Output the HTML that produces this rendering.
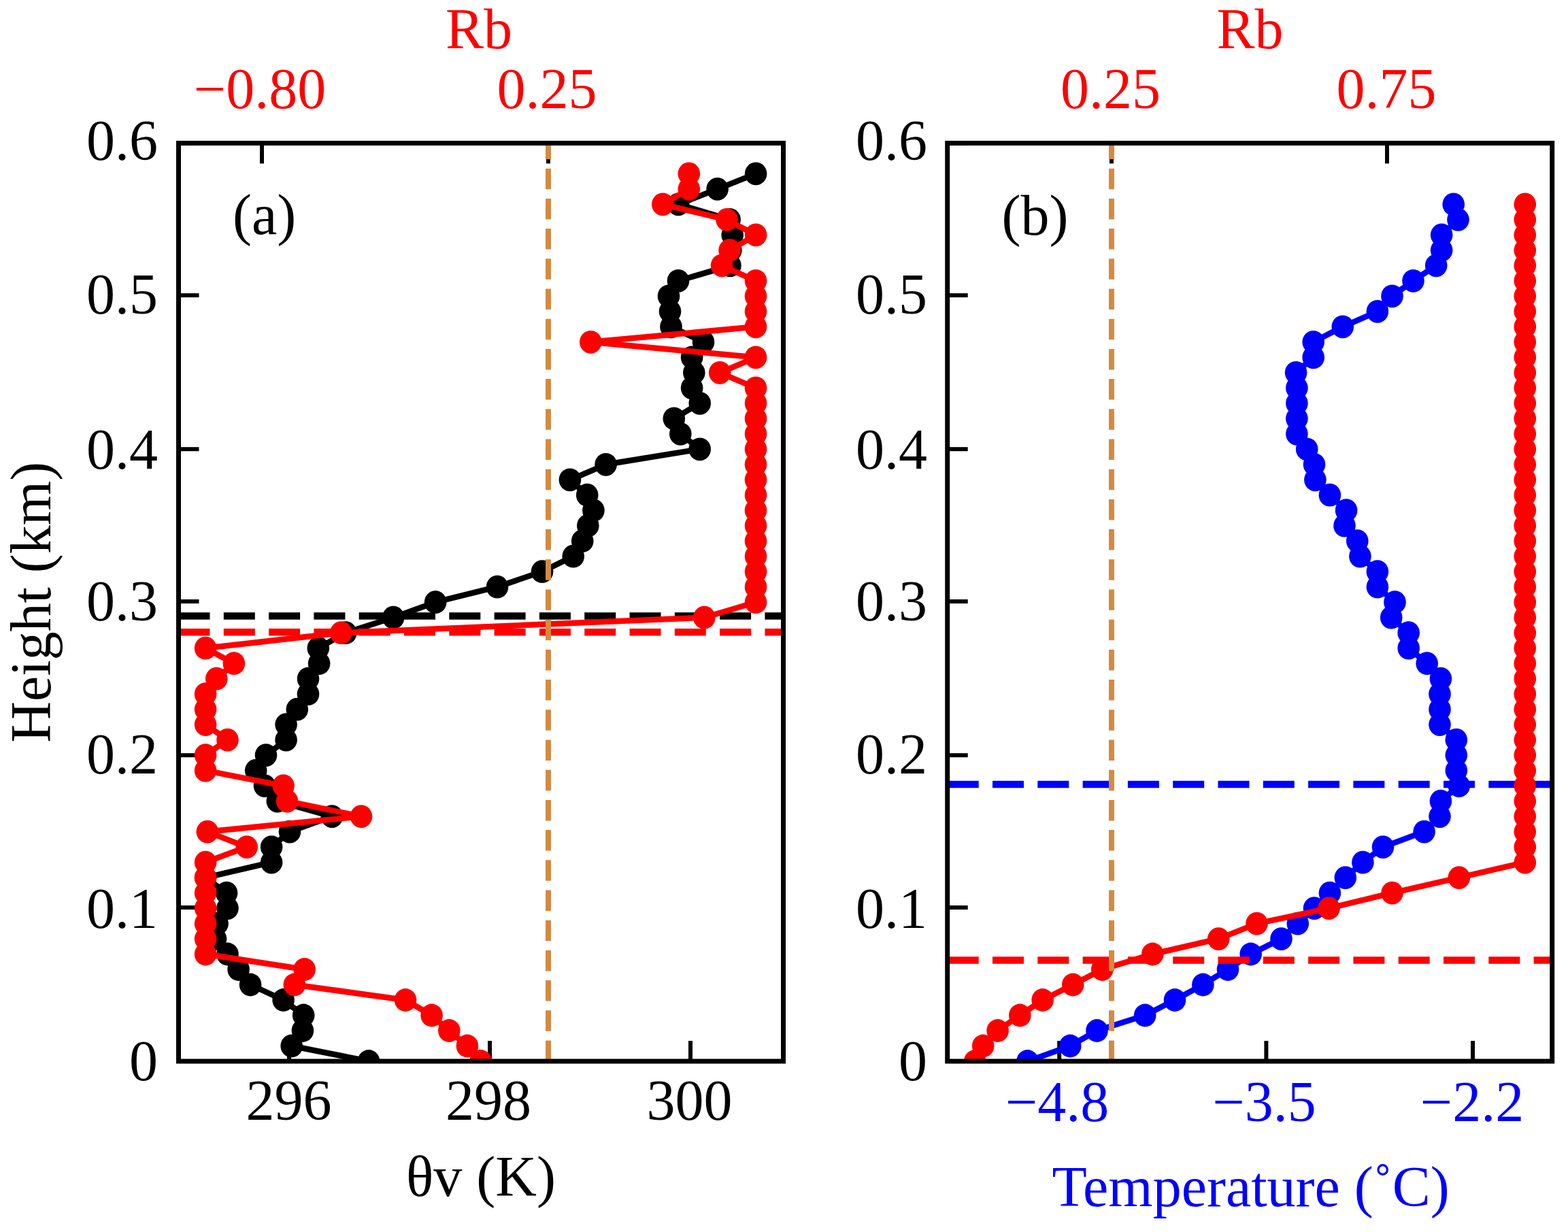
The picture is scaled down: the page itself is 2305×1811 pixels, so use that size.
<!DOCTYPE html>
<html><head><meta charset="utf-8"><style>
html,body{margin:0;padding:0;background:#fff;}
svg{display:block;}
text{font-family:"Liberation Serif","Times New Roman",serif;font-size:84px;}
</style></head><body>
<svg width="2305" height="1811" viewBox="0 0 2305 1811">
<rect width="2305" height="1811" fill="#fff"/>
<defs>
<clipPath id="clipA"><rect x="262.5" y="210.4" width="889.0" height="1349.6"/></clipPath>
<clipPath id="clipB"><rect x="1392.7" y="210.4" width="888.9999999999998" height="1349.6"/></clipPath>
</defs><line x1="262.5" y1="1560.0" x2="292.5" y2="1560.0" stroke="#000" stroke-width="6"/><line x1="262.5" y1="1334.0" x2="292.5" y2="1334.0" stroke="#000" stroke-width="6"/><line x1="262.5" y1="1110.2" x2="292.5" y2="1110.2" stroke="#000" stroke-width="6"/><line x1="262.5" y1="884.1" x2="292.5" y2="884.1" stroke="#000" stroke-width="6"/><line x1="262.5" y1="660.2" x2="292.5" y2="660.2" stroke="#000" stroke-width="6"/><line x1="262.5" y1="434.1" x2="292.5" y2="434.1" stroke="#000" stroke-width="6"/><line x1="262.5" y1="210.5" x2="292.5" y2="210.5" stroke="#000" stroke-width="6"/><line x1="1392.7" y1="1560.0" x2="1422.7" y2="1560.0" stroke="#000" stroke-width="6"/><line x1="1392.7" y1="1334.0" x2="1422.7" y2="1334.0" stroke="#000" stroke-width="6"/><line x1="1392.7" y1="1110.2" x2="1422.7" y2="1110.2" stroke="#000" stroke-width="6"/><line x1="1392.7" y1="884.1" x2="1422.7" y2="884.1" stroke="#000" stroke-width="6"/><line x1="1392.7" y1="660.2" x2="1422.7" y2="660.2" stroke="#000" stroke-width="6"/><line x1="1392.7" y1="434.1" x2="1422.7" y2="434.1" stroke="#000" stroke-width="6"/><line x1="1392.7" y1="210.5" x2="1422.7" y2="210.5" stroke="#000" stroke-width="6"/><line x1="425" y1="1560.0" x2="425" y2="1530.0" stroke="#000" stroke-width="6"/><line x1="720" y1="1560.0" x2="720" y2="1530.0" stroke="#000" stroke-width="6"/><line x1="1015" y1="1560.0" x2="1015" y2="1530.0" stroke="#000" stroke-width="6"/><line x1="385" y1="210.4" x2="385" y2="240.4" stroke="#000" stroke-width="6"/><line x1="806" y1="210.4" x2="806" y2="240.4" stroke="#000" stroke-width="6"/><line x1="1557.2" y1="1560.0" x2="1557.2" y2="1530.0" stroke="#000" stroke-width="6"/><line x1="1861.4" y1="1560.0" x2="1861.4" y2="1530.0" stroke="#000" stroke-width="6"/><line x1="2165" y1="1560.0" x2="2165" y2="1530.0" stroke="#000" stroke-width="6"/><line x1="1634" y1="210.4" x2="1634" y2="240.4" stroke="#000" stroke-width="6"/><line x1="2039" y1="210.4" x2="2039" y2="240.4" stroke="#000" stroke-width="6"/><g clip-path="url(#clipA)"><path d="M542.0,1560.0 L428.7,1537.5 L444.9,1515.0 L446.2,1492.5 L416.6,1470.0 L368.1,1447.5 L350.6,1425.0 L334.5,1402.5 L317.0,1380.1 L319.6,1357.6 L334.5,1335.1 L333.1,1312.6 L302.1,1290.1 L399.1,1267.6 L399.1,1245.1 L426.0,1222.6 L488.0,1200.1 L407.8,1177.6 L389.0,1155.1 L376.2,1132.6 L391.0,1110.1 L420.6,1087.6 L420.6,1065.1 L436.8,1042.7 L453.0,1020.2 L453.0,997.7 L469.1,975.2 L467.8,952.7 L508.2,930.2 L578.2,907.7 L640.1,885.2 L731.0,862.7 L797.0,840.2 L842.7,817.7 L856.2,795.2 L864.3,772.7 L872.4,750.2 L863.2,727.7 L837.9,705.3 L890.6,682.8 L1028.7,660.3 L1000.3,637.8 L990.8,615.3 L1028.7,592.8 L1017.1,570.3 L1020.3,547.8 L1017.1,525.3 L1034.0,502.8 L986.5,480.3 L985.0,457.8 L983.0,435.3 L997.0,412.8 L1073.4,390.3 L1074.3,367.9 L1076.7,345.4 L1072.6,322.9 L997.2,300.4 L1054.6,277.9 L1111.1,255.4" fill="none" stroke="#000" stroke-width="8.5" stroke-linejoin="round"/><g fill="#000"><ellipse cx="542.0" cy="1560.0" rx="16.3" ry="16.9"/><ellipse cx="428.7" cy="1537.5" rx="16.3" ry="16.9"/><ellipse cx="444.9" cy="1515.0" rx="16.3" ry="16.9"/><ellipse cx="446.2" cy="1492.5" rx="16.3" ry="16.9"/><ellipse cx="416.6" cy="1470.0" rx="16.3" ry="16.9"/><ellipse cx="368.1" cy="1447.5" rx="16.3" ry="16.9"/><ellipse cx="350.6" cy="1425.0" rx="16.3" ry="16.9"/><ellipse cx="334.5" cy="1402.5" rx="16.3" ry="16.9"/><ellipse cx="317.0" cy="1380.1" rx="16.3" ry="16.9"/><ellipse cx="319.6" cy="1357.6" rx="16.3" ry="16.9"/><ellipse cx="334.5" cy="1335.1" rx="16.3" ry="16.9"/><ellipse cx="333.1" cy="1312.6" rx="16.3" ry="16.9"/><ellipse cx="302.1" cy="1290.1" rx="16.3" ry="16.9"/><ellipse cx="399.1" cy="1267.6" rx="16.3" ry="16.9"/><ellipse cx="399.1" cy="1245.1" rx="16.3" ry="16.9"/><ellipse cx="426.0" cy="1222.6" rx="16.3" ry="16.9"/><ellipse cx="488.0" cy="1200.1" rx="16.3" ry="16.9"/><ellipse cx="407.8" cy="1177.6" rx="16.3" ry="16.9"/><ellipse cx="389.0" cy="1155.1" rx="16.3" ry="16.9"/><ellipse cx="376.2" cy="1132.6" rx="16.3" ry="16.9"/><ellipse cx="391.0" cy="1110.1" rx="16.3" ry="16.9"/><ellipse cx="420.6" cy="1087.6" rx="16.3" ry="16.9"/><ellipse cx="420.6" cy="1065.1" rx="16.3" ry="16.9"/><ellipse cx="436.8" cy="1042.7" rx="16.3" ry="16.9"/><ellipse cx="453.0" cy="1020.2" rx="16.3" ry="16.9"/><ellipse cx="453.0" cy="997.7" rx="16.3" ry="16.9"/><ellipse cx="469.1" cy="975.2" rx="16.3" ry="16.9"/><ellipse cx="467.8" cy="952.7" rx="16.3" ry="16.9"/><ellipse cx="508.2" cy="930.2" rx="16.3" ry="16.9"/><ellipse cx="578.2" cy="907.7" rx="16.3" ry="16.9"/><ellipse cx="640.1" cy="885.2" rx="16.3" ry="16.9"/><ellipse cx="731.0" cy="862.7" rx="16.3" ry="16.9"/><ellipse cx="797.0" cy="840.2" rx="16.3" ry="16.9"/><ellipse cx="842.7" cy="817.7" rx="16.3" ry="16.9"/><ellipse cx="856.2" cy="795.2" rx="16.3" ry="16.9"/><ellipse cx="864.3" cy="772.7" rx="16.3" ry="16.9"/><ellipse cx="872.4" cy="750.2" rx="16.3" ry="16.9"/><ellipse cx="863.2" cy="727.7" rx="16.3" ry="16.9"/><ellipse cx="837.9" cy="705.3" rx="16.3" ry="16.9"/><ellipse cx="890.6" cy="682.8" rx="16.3" ry="16.9"/><ellipse cx="1028.7" cy="660.3" rx="16.3" ry="16.9"/><ellipse cx="1000.3" cy="637.8" rx="16.3" ry="16.9"/><ellipse cx="990.8" cy="615.3" rx="16.3" ry="16.9"/><ellipse cx="1028.7" cy="592.8" rx="16.3" ry="16.9"/><ellipse cx="1017.1" cy="570.3" rx="16.3" ry="16.9"/><ellipse cx="1020.3" cy="547.8" rx="16.3" ry="16.9"/><ellipse cx="1017.1" cy="525.3" rx="16.3" ry="16.9"/><ellipse cx="1034.0" cy="502.8" rx="16.3" ry="16.9"/><ellipse cx="986.5" cy="480.3" rx="16.3" ry="16.9"/><ellipse cx="985.0" cy="457.8" rx="16.3" ry="16.9"/><ellipse cx="983.0" cy="435.3" rx="16.3" ry="16.9"/><ellipse cx="997.0" cy="412.8" rx="16.3" ry="16.9"/><ellipse cx="1073.4" cy="390.3" rx="16.3" ry="16.9"/><ellipse cx="1074.3" cy="367.9" rx="16.3" ry="16.9"/><ellipse cx="1076.7" cy="345.4" rx="16.3" ry="16.9"/><ellipse cx="1072.6" cy="322.9" rx="16.3" ry="16.9"/><ellipse cx="997.2" cy="300.4" rx="16.3" ry="16.9"/><ellipse cx="1054.6" cy="277.9" rx="16.3" ry="16.9"/><ellipse cx="1111.1" cy="255.4" rx="16.3" ry="16.9"/></g></g><g clip-path="url(#clipA)"><line x1="262.5" y1="905.6" x2="1151.5" y2="905.6" stroke="#000" stroke-width="10.5" stroke-dasharray="46 20.3"/></g><g clip-path="url(#clipA)"><path d="M706.7,1560.0 L686.9,1537.5 L660.3,1515.0 L634.6,1492.5 L596.0,1470.0 L432.8,1447.5 L447.6,1425.0 L302.1,1402.5 L302.1,1380.1 L302.1,1357.6 L302.1,1335.1 L302.1,1312.6 L302.1,1290.1 L302.1,1267.6 L362.7,1245.1 L304.8,1222.6 L531.0,1200.1 L422.0,1177.6 L416.6,1155.1 L302.1,1132.6 L302.1,1110.1 L334.5,1087.6 L302.1,1065.1 L302.1,1042.7 L302.1,1020.2 L318.3,997.7 L343.9,975.2 L302.1,952.7 L501.4,930.2 L1035.3,907.7 L1111.0,885.2 L1111.0,862.7 L1111.0,840.2 L1111.0,817.7 L1111.0,795.2 L1111.0,772.7 L1111.0,750.2 L1111.0,727.7 L1111.0,705.3 L1111.0,682.8 L1111.0,660.3 L1111.0,637.8 L1111.0,615.3 L1111.0,592.8 L1111.0,570.3 L1058.2,547.8 L1111.0,525.3 L868.3,502.8 L1111.0,480.3 L1111.0,457.8 L1111.0,435.3 L1111.0,412.8 L1061.1,390.3 L1072.6,367.9 L1111.1,345.4 L1068.5,322.9 L974.3,300.4 L1012.8,277.9 L1012.8,255.4" fill="none" stroke="#F00" stroke-width="8.5" stroke-linejoin="round"/><g fill="#F00"><ellipse cx="706.7" cy="1560.0" rx="16.3" ry="16.9"/><ellipse cx="686.9" cy="1537.5" rx="16.3" ry="16.9"/><ellipse cx="660.3" cy="1515.0" rx="16.3" ry="16.9"/><ellipse cx="634.6" cy="1492.5" rx="16.3" ry="16.9"/><ellipse cx="596.0" cy="1470.0" rx="16.3" ry="16.9"/><ellipse cx="432.8" cy="1447.5" rx="16.3" ry="16.9"/><ellipse cx="447.6" cy="1425.0" rx="16.3" ry="16.9"/><ellipse cx="302.1" cy="1402.5" rx="16.3" ry="16.9"/><ellipse cx="302.1" cy="1380.1" rx="16.3" ry="16.9"/><ellipse cx="302.1" cy="1357.6" rx="16.3" ry="16.9"/><ellipse cx="302.1" cy="1335.1" rx="16.3" ry="16.9"/><ellipse cx="302.1" cy="1312.6" rx="16.3" ry="16.9"/><ellipse cx="302.1" cy="1290.1" rx="16.3" ry="16.9"/><ellipse cx="302.1" cy="1267.6" rx="16.3" ry="16.9"/><ellipse cx="362.7" cy="1245.1" rx="16.3" ry="16.9"/><ellipse cx="304.8" cy="1222.6" rx="16.3" ry="16.9"/><ellipse cx="531.0" cy="1200.1" rx="16.3" ry="16.9"/><ellipse cx="422.0" cy="1177.6" rx="16.3" ry="16.9"/><ellipse cx="416.6" cy="1155.1" rx="16.3" ry="16.9"/><ellipse cx="302.1" cy="1132.6" rx="16.3" ry="16.9"/><ellipse cx="302.1" cy="1110.1" rx="16.3" ry="16.9"/><ellipse cx="334.5" cy="1087.6" rx="16.3" ry="16.9"/><ellipse cx="302.1" cy="1065.1" rx="16.3" ry="16.9"/><ellipse cx="302.1" cy="1042.7" rx="16.3" ry="16.9"/><ellipse cx="302.1" cy="1020.2" rx="16.3" ry="16.9"/><ellipse cx="318.3" cy="997.7" rx="16.3" ry="16.9"/><ellipse cx="343.9" cy="975.2" rx="16.3" ry="16.9"/><ellipse cx="302.1" cy="952.7" rx="16.3" ry="16.9"/><ellipse cx="501.4" cy="930.2" rx="16.3" ry="16.9"/><ellipse cx="1035.3" cy="907.7" rx="16.3" ry="16.9"/><ellipse cx="1111.0" cy="885.2" rx="16.3" ry="16.9"/><ellipse cx="1111.0" cy="862.7" rx="16.3" ry="16.9"/><ellipse cx="1111.0" cy="840.2" rx="16.3" ry="16.9"/><ellipse cx="1111.0" cy="817.7" rx="16.3" ry="16.9"/><ellipse cx="1111.0" cy="795.2" rx="16.3" ry="16.9"/><ellipse cx="1111.0" cy="772.7" rx="16.3" ry="16.9"/><ellipse cx="1111.0" cy="750.2" rx="16.3" ry="16.9"/><ellipse cx="1111.0" cy="727.7" rx="16.3" ry="16.9"/><ellipse cx="1111.0" cy="705.3" rx="16.3" ry="16.9"/><ellipse cx="1111.0" cy="682.8" rx="16.3" ry="16.9"/><ellipse cx="1111.0" cy="660.3" rx="16.3" ry="16.9"/><ellipse cx="1111.0" cy="637.8" rx="16.3" ry="16.9"/><ellipse cx="1111.0" cy="615.3" rx="16.3" ry="16.9"/><ellipse cx="1111.0" cy="592.8" rx="16.3" ry="16.9"/><ellipse cx="1111.0" cy="570.3" rx="16.3" ry="16.9"/><ellipse cx="1058.2" cy="547.8" rx="16.3" ry="16.9"/><ellipse cx="1111.0" cy="525.3" rx="16.3" ry="16.9"/><ellipse cx="868.3" cy="502.8" rx="16.3" ry="16.9"/><ellipse cx="1111.0" cy="480.3" rx="16.3" ry="16.9"/><ellipse cx="1111.0" cy="457.8" rx="16.3" ry="16.9"/><ellipse cx="1111.0" cy="435.3" rx="16.3" ry="16.9"/><ellipse cx="1111.0" cy="412.8" rx="16.3" ry="16.9"/><ellipse cx="1061.1" cy="390.3" rx="16.3" ry="16.9"/><ellipse cx="1072.6" cy="367.9" rx="16.3" ry="16.9"/><ellipse cx="1111.1" cy="345.4" rx="16.3" ry="16.9"/><ellipse cx="1068.5" cy="322.9" rx="16.3" ry="16.9"/><ellipse cx="974.3" cy="300.4" rx="16.3" ry="16.9"/><ellipse cx="1012.8" cy="277.9" rx="16.3" ry="16.9"/><ellipse cx="1012.8" cy="255.4" rx="16.3" ry="16.9"/></g></g><g clip-path="url(#clipA)"><line x1="262.5" y1="929.2" x2="1151.5" y2="929.2" stroke="#F00" stroke-width="10.5" stroke-dasharray="46 20.3"/></g><line x1="806" y1="1560.0" x2="806" y2="200.4" stroke="#D48A42" stroke-width="8" stroke-dasharray="30.5 13.7" clip-path="url(#clipA)"/><g clip-path="url(#clipB)"><path d="M1510.5,1560.0 L1573.2,1537.5 L1612.5,1515.0 L1683.2,1492.5 L1727.0,1470.0 L1768.4,1447.5 L1805.0,1425.0 L1838.7,1402.5 L1883.5,1380.1 L1907.8,1357.6 L1932.0,1335.1 L1954.9,1312.6 L1977.8,1290.1 L2003.4,1267.6 L2033.0,1245.1 L2093.6,1222.6 L2116.5,1200.1 L2117.9,1177.6 L2144.8,1155.1 L2140.8,1132.6 L2140.8,1110.1 L2140.8,1087.6 L2116.5,1065.1 L2116.5,1042.7 L2116.5,1020.2 L2117.9,997.7 L2097.7,975.2 L2070.7,952.7 L2070.7,930.2 L2045.2,907.7 L2050.5,885.2 L2024.9,862.7 L2024.9,840.2 L1999.4,817.7 L1995.3,795.2 L1976.5,772.7 L1979.1,750.2 L1954.9,727.7 L1933.4,705.3 L1932.0,682.8 L1921.2,660.3 L1906.4,637.8 L1906.4,615.3 L1906.4,592.8 L1906.4,570.3 L1905.1,547.8 L1930.7,525.3 L1930.7,502.8 L1973.8,480.3 L2024.9,457.8 L2046.5,435.3 L2077.5,412.8 L2111.2,390.3 L2119.2,367.9 L2119.2,345.4 L2143.5,322.9 L2136.7,300.4" fill="none" stroke="#00F" stroke-width="8.5" stroke-linejoin="round"/><g fill="#00F"><ellipse cx="1510.5" cy="1560.0" rx="16.3" ry="16.9"/><ellipse cx="1573.2" cy="1537.5" rx="16.3" ry="16.9"/><ellipse cx="1612.5" cy="1515.0" rx="16.3" ry="16.9"/><ellipse cx="1683.2" cy="1492.5" rx="16.3" ry="16.9"/><ellipse cx="1727.0" cy="1470.0" rx="16.3" ry="16.9"/><ellipse cx="1768.4" cy="1447.5" rx="16.3" ry="16.9"/><ellipse cx="1805.0" cy="1425.0" rx="16.3" ry="16.9"/><ellipse cx="1838.7" cy="1402.5" rx="16.3" ry="16.9"/><ellipse cx="1883.5" cy="1380.1" rx="16.3" ry="16.9"/><ellipse cx="1907.8" cy="1357.6" rx="16.3" ry="16.9"/><ellipse cx="1932.0" cy="1335.1" rx="16.3" ry="16.9"/><ellipse cx="1954.9" cy="1312.6" rx="16.3" ry="16.9"/><ellipse cx="1977.8" cy="1290.1" rx="16.3" ry="16.9"/><ellipse cx="2003.4" cy="1267.6" rx="16.3" ry="16.9"/><ellipse cx="2033.0" cy="1245.1" rx="16.3" ry="16.9"/><ellipse cx="2093.6" cy="1222.6" rx="16.3" ry="16.9"/><ellipse cx="2116.5" cy="1200.1" rx="16.3" ry="16.9"/><ellipse cx="2117.9" cy="1177.6" rx="16.3" ry="16.9"/><ellipse cx="2144.8" cy="1155.1" rx="16.3" ry="16.9"/><ellipse cx="2140.8" cy="1132.6" rx="16.3" ry="16.9"/><ellipse cx="2140.8" cy="1110.1" rx="16.3" ry="16.9"/><ellipse cx="2140.8" cy="1087.6" rx="16.3" ry="16.9"/><ellipse cx="2116.5" cy="1065.1" rx="16.3" ry="16.9"/><ellipse cx="2116.5" cy="1042.7" rx="16.3" ry="16.9"/><ellipse cx="2116.5" cy="1020.2" rx="16.3" ry="16.9"/><ellipse cx="2117.9" cy="997.7" rx="16.3" ry="16.9"/><ellipse cx="2097.7" cy="975.2" rx="16.3" ry="16.9"/><ellipse cx="2070.7" cy="952.7" rx="16.3" ry="16.9"/><ellipse cx="2070.7" cy="930.2" rx="16.3" ry="16.9"/><ellipse cx="2045.2" cy="907.7" rx="16.3" ry="16.9"/><ellipse cx="2050.5" cy="885.2" rx="16.3" ry="16.9"/><ellipse cx="2024.9" cy="862.7" rx="16.3" ry="16.9"/><ellipse cx="2024.9" cy="840.2" rx="16.3" ry="16.9"/><ellipse cx="1999.4" cy="817.7" rx="16.3" ry="16.9"/><ellipse cx="1995.3" cy="795.2" rx="16.3" ry="16.9"/><ellipse cx="1976.5" cy="772.7" rx="16.3" ry="16.9"/><ellipse cx="1979.1" cy="750.2" rx="16.3" ry="16.9"/><ellipse cx="1954.9" cy="727.7" rx="16.3" ry="16.9"/><ellipse cx="1933.4" cy="705.3" rx="16.3" ry="16.9"/><ellipse cx="1932.0" cy="682.8" rx="16.3" ry="16.9"/><ellipse cx="1921.2" cy="660.3" rx="16.3" ry="16.9"/><ellipse cx="1906.4" cy="637.8" rx="16.3" ry="16.9"/><ellipse cx="1906.4" cy="615.3" rx="16.3" ry="16.9"/><ellipse cx="1906.4" cy="592.8" rx="16.3" ry="16.9"/><ellipse cx="1906.4" cy="570.3" rx="16.3" ry="16.9"/><ellipse cx="1905.1" cy="547.8" rx="16.3" ry="16.9"/><ellipse cx="1930.7" cy="525.3" rx="16.3" ry="16.9"/><ellipse cx="1930.7" cy="502.8" rx="16.3" ry="16.9"/><ellipse cx="1973.8" cy="480.3" rx="16.3" ry="16.9"/><ellipse cx="2024.9" cy="457.8" rx="16.3" ry="16.9"/><ellipse cx="2046.5" cy="435.3" rx="16.3" ry="16.9"/><ellipse cx="2077.5" cy="412.8" rx="16.3" ry="16.9"/><ellipse cx="2111.2" cy="390.3" rx="16.3" ry="16.9"/><ellipse cx="2119.2" cy="367.9" rx="16.3" ry="16.9"/><ellipse cx="2119.2" cy="345.4" rx="16.3" ry="16.9"/><ellipse cx="2143.5" cy="322.9" rx="16.3" ry="16.9"/><ellipse cx="2136.7" cy="300.4" rx="16.3" ry="16.9"/></g></g><g clip-path="url(#clipB)"><line x1="1392.7" y1="1153" x2="2281.7" y2="1153" stroke="#00F" stroke-width="10.5" stroke-dasharray="46 20.3"/></g><g clip-path="url(#clipB)"><path d="M1433.2,1560.0 L1445.2,1537.5 L1466.6,1515.0 L1499.3,1492.5 L1532.7,1470.0 L1577.2,1447.5 L1620.3,1425.0 L1694.3,1402.5 L1791.3,1380.1 L1847.5,1357.6 L1953.6,1335.1 L2046.5,1312.6 L2144.8,1290.1 L2241.8,1267.6 L2241.8,1245.1 L2241.8,1222.6 L2241.8,1200.1 L2241.8,1177.6 L2241.8,1155.1 L2241.8,1132.6 L2241.8,1110.1 L2241.8,1087.6 L2241.8,1065.1 L2241.8,1042.7 L2241.8,1020.2 L2241.8,997.7 L2241.8,975.2 L2241.8,952.7 L2241.8,930.2 L2241.8,907.7 L2241.8,885.2 L2241.8,862.7 L2241.8,840.2 L2241.8,817.7 L2241.8,795.2 L2241.8,772.7 L2241.8,750.2 L2241.8,727.7 L2241.8,705.3 L2241.8,682.8 L2241.8,660.3 L2241.8,637.8 L2241.8,615.3 L2241.8,592.8 L2241.8,570.3 L2241.8,547.8 L2241.8,525.3 L2241.8,502.8 L2241.8,480.3 L2241.8,457.8 L2241.8,435.3 L2241.8,412.8 L2241.8,390.3 L2241.8,367.9 L2241.8,345.4 L2241.8,322.9 L2241.8,300.4" fill="none" stroke="#F00" stroke-width="8.5" stroke-linejoin="round"/><g fill="#F00"><ellipse cx="1433.2" cy="1560.0" rx="16.3" ry="16.9"/><ellipse cx="1445.2" cy="1537.5" rx="16.3" ry="16.9"/><ellipse cx="1466.6" cy="1515.0" rx="16.3" ry="16.9"/><ellipse cx="1499.3" cy="1492.5" rx="16.3" ry="16.9"/><ellipse cx="1532.7" cy="1470.0" rx="16.3" ry="16.9"/><ellipse cx="1577.2" cy="1447.5" rx="16.3" ry="16.9"/><ellipse cx="1620.3" cy="1425.0" rx="16.3" ry="16.9"/><ellipse cx="1694.3" cy="1402.5" rx="16.3" ry="16.9"/><ellipse cx="1791.3" cy="1380.1" rx="16.3" ry="16.9"/><ellipse cx="1847.5" cy="1357.6" rx="16.3" ry="16.9"/><ellipse cx="1953.6" cy="1335.1" rx="16.3" ry="16.9"/><ellipse cx="2046.5" cy="1312.6" rx="16.3" ry="16.9"/><ellipse cx="2144.8" cy="1290.1" rx="16.3" ry="16.9"/><ellipse cx="2241.8" cy="1267.6" rx="16.3" ry="16.9"/><ellipse cx="2241.8" cy="1245.1" rx="16.3" ry="16.9"/><ellipse cx="2241.8" cy="1222.6" rx="16.3" ry="16.9"/><ellipse cx="2241.8" cy="1200.1" rx="16.3" ry="16.9"/><ellipse cx="2241.8" cy="1177.6" rx="16.3" ry="16.9"/><ellipse cx="2241.8" cy="1155.1" rx="16.3" ry="16.9"/><ellipse cx="2241.8" cy="1132.6" rx="16.3" ry="16.9"/><ellipse cx="2241.8" cy="1110.1" rx="16.3" ry="16.9"/><ellipse cx="2241.8" cy="1087.6" rx="16.3" ry="16.9"/><ellipse cx="2241.8" cy="1065.1" rx="16.3" ry="16.9"/><ellipse cx="2241.8" cy="1042.7" rx="16.3" ry="16.9"/><ellipse cx="2241.8" cy="1020.2" rx="16.3" ry="16.9"/><ellipse cx="2241.8" cy="997.7" rx="16.3" ry="16.9"/><ellipse cx="2241.8" cy="975.2" rx="16.3" ry="16.9"/><ellipse cx="2241.8" cy="952.7" rx="16.3" ry="16.9"/><ellipse cx="2241.8" cy="930.2" rx="16.3" ry="16.9"/><ellipse cx="2241.8" cy="907.7" rx="16.3" ry="16.9"/><ellipse cx="2241.8" cy="885.2" rx="16.3" ry="16.9"/><ellipse cx="2241.8" cy="862.7" rx="16.3" ry="16.9"/><ellipse cx="2241.8" cy="840.2" rx="16.3" ry="16.9"/><ellipse cx="2241.8" cy="817.7" rx="16.3" ry="16.9"/><ellipse cx="2241.8" cy="795.2" rx="16.3" ry="16.9"/><ellipse cx="2241.8" cy="772.7" rx="16.3" ry="16.9"/><ellipse cx="2241.8" cy="750.2" rx="16.3" ry="16.9"/><ellipse cx="2241.8" cy="727.7" rx="16.3" ry="16.9"/><ellipse cx="2241.8" cy="705.3" rx="16.3" ry="16.9"/><ellipse cx="2241.8" cy="682.8" rx="16.3" ry="16.9"/><ellipse cx="2241.8" cy="660.3" rx="16.3" ry="16.9"/><ellipse cx="2241.8" cy="637.8" rx="16.3" ry="16.9"/><ellipse cx="2241.8" cy="615.3" rx="16.3" ry="16.9"/><ellipse cx="2241.8" cy="592.8" rx="16.3" ry="16.9"/><ellipse cx="2241.8" cy="570.3" rx="16.3" ry="16.9"/><ellipse cx="2241.8" cy="547.8" rx="16.3" ry="16.9"/><ellipse cx="2241.8" cy="525.3" rx="16.3" ry="16.9"/><ellipse cx="2241.8" cy="502.8" rx="16.3" ry="16.9"/><ellipse cx="2241.8" cy="480.3" rx="16.3" ry="16.9"/><ellipse cx="2241.8" cy="457.8" rx="16.3" ry="16.9"/><ellipse cx="2241.8" cy="435.3" rx="16.3" ry="16.9"/><ellipse cx="2241.8" cy="412.8" rx="16.3" ry="16.9"/><ellipse cx="2241.8" cy="390.3" rx="16.3" ry="16.9"/><ellipse cx="2241.8" cy="367.9" rx="16.3" ry="16.9"/><ellipse cx="2241.8" cy="345.4" rx="16.3" ry="16.9"/><ellipse cx="2241.8" cy="322.9" rx="16.3" ry="16.9"/><ellipse cx="2241.8" cy="300.4" rx="16.3" ry="16.9"/></g></g><g clip-path="url(#clipB)"><line x1="1392.7" y1="1411.4" x2="2281.7" y2="1411.4" stroke="#F00" stroke-width="10.5" stroke-dasharray="46 20.3"/></g><line x1="1634" y1="1560.0" x2="1634" y2="200.4" stroke="#D48A42" stroke-width="8" stroke-dasharray="30.5 13.7" clip-path="url(#clipB)"/><rect x="262.5" y="210.4" width="889.0" height="1349.6" fill="none" stroke="#000" stroke-width="7"/><rect x="1392.7" y="210.4" width="888.9999999999998" height="1349.6" fill="none" stroke="#000" stroke-width="7"/>
<g fill="#000"><text x="232" y="1588.0" text-anchor="end">0</text><text x="232" y="1363.5" text-anchor="end">0.1</text><text x="232" y="1137.1" text-anchor="end">0.2</text><text x="232" y="911.6" text-anchor="end">0.3</text><text x="232" y="688.6" text-anchor="end">0.4</text><text x="232" y="461.0" text-anchor="end">0.5</text><text x="232" y="235.1" text-anchor="end">0.6</text><text x="1363" y="1588.0" text-anchor="end">0</text><text x="1363" y="1363.5" text-anchor="end">0.1</text><text x="1363" y="1137.1" text-anchor="end">0.2</text><text x="1363" y="911.6" text-anchor="end">0.3</text><text x="1363" y="688.6" text-anchor="end">0.4</text><text x="1363" y="461.0" text-anchor="end">0.5</text><text x="1363" y="235.1" text-anchor="end">0.6</text><text x="424.5" y="1646" text-anchor="middle">296</text><text x="718" y="1646" text-anchor="middle">298</text><text x="1013.5" y="1646" text-anchor="middle">300</text><text x="707" y="1758" text-anchor="middle">θv (K)</text><text transform="translate(73.5,885.3) rotate(-90)" text-anchor="middle">Height (km)</text><text x="342" y="344">(a)</text><text x="1472.5" y="345">(b)</text></g><g fill="#F00"><text x="382" y="158.5" text-anchor="middle">−0.80</text><text x="804" y="158.5" text-anchor="middle">0.25</text><text x="1632.5" y="158.5" text-anchor="middle">0.25</text><text x="2038" y="158.5" text-anchor="middle">0.75</text><text x="704" y="70.5" text-anchor="middle">Rb</text><text x="1837.5" y="71" text-anchor="middle">Rb</text></g><g fill="#00F"><text x="1554.2" y="1647.5" text-anchor="middle">−4.8</text><text x="1858.6" y="1647.5" text-anchor="middle">−3.5</text><text x="2164" y="1647.5" text-anchor="middle">−2.2</text><text x="1838.7" y="1773.4" text-anchor="middle">Temperature (˚C)</text></g>
</svg>
</body></html>
